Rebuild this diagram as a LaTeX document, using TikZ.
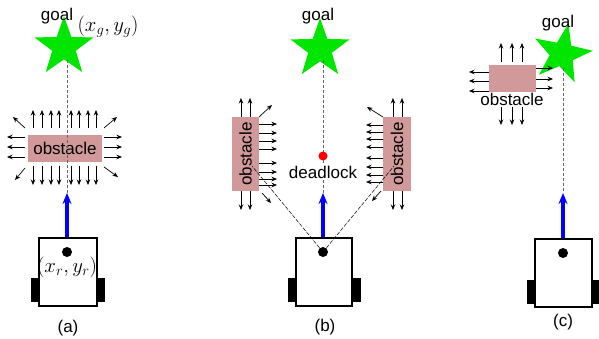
\documentclass[tikz,border=0pt]{standalone}
\usepackage{fontspec}
\setmainfont{Liberation Sans}
\usetikzlibrary{arrows.meta,shapes.geometric,calc}
\definecolor{obsfill}{RGB}{209,153,153}
\definecolor{stargreen}{RGB}{0,230,0}
\definecolor{robblue}{RGB}{0,0,255}
\begin{document}
\begin{tikzpicture}[x=1pt,y=-1pt,font=\fontsize{17}{20}\selectfont]
\tikzset{
  obst/.style={fill=obsfill,inner sep=0pt},
  goalstar/.style={star,star points=5,star point ratio=2.5,minimum size=62pt,inner sep=0pt,fill=stargreen},
  robot/.style={draw=black,line width=1.4pt,fill=white,inner sep=0pt},
  wheel/.style={fill=black,inner sep=0pt,minimum width=8pt,minimum height=24pt},
  rdot/.style={circle,fill=black,inner sep=0pt,minimum size=10pt},
  farrow/.style={-{Stealth[length=5.5pt,width=4.5pt]},line width=0.7pt},
  heading/.style={-{Stealth[length=11pt,width=9pt]},line width=3.2pt,draw=robblue},
  goalline/.style={dashed,dash pattern=on 3pt off 2pt,draw=black!60,line width=0.8pt},
  sightline/.style={dashed,dash pattern=on 4pt off 1.5pt,line width=0.5pt},
  lbl/.style={inner sep=0pt},
  mathlbl/.style={inner sep=0pt,font=\fontsize{21}{24}\selectfont}
}
\useasboundingbox (0,0) rectangle (599,339);

% ================= (a) =================
\coordinate (ta) at (67,193);
\node[goalstar] (sa) at (64,47) {};
\draw[goalline] (67,60) -- (ta);
\node[obst,minimum width=74pt,minimum height=27pt] (oa) at (65,148.5) {obstacle};
\draw[goalline] (oa.north -| ta) -- (oa.south -| ta);
\foreach \x in {33,42,51,59,71,79,88,96}{
  \draw[farrow] (\x,128) -- (\x,110);
  \draw[farrow] (\x,166) -- (\x,185);
}
\foreach \y in {137,147,157}{
  \draw[farrow] (25,\y) -- (7,\y);
  \draw[farrow] (104,\y) -- (122,\y);
}
\draw[farrow] (25,128) -- (13,117);
\draw[farrow] (104,128) -- (117,117);
\draw[farrow] (25,168) -- (15,180);
\draw[farrow] (104,167) -- (118,177);
\node[wheel] (wal) at (35,290) {};
\node[wheel] (war) at (100.5,290) {};
\node[robot,minimum width=58pt,minimum height=68pt] (ra) at (68,272) {};
\node[rdot] (da) at (67,252) {};
\draw[heading] (ra.north -| ta) -- (ta);
\node[lbl] (ga) at (57,16) {goal};
\node[mathlbl] (xga) at (108,27) {$(x_g,y_g)$};
\node[mathlbl] (xra) at (67,267) {$(x_r,y_r)$};
\node[lbl] (la) at (68,328) {(a)};

% ================= (b) =================
\coordinate (tb) at (323,193);
\node[goalstar] (sb) at (320,49) {};
\draw[goalline] (323,60) -- (tb);
\node[circle,fill=red,inner sep=0pt,minimum size=9pt] (dl) at (323,156) {};
\node[lbl,fill=white,inner sep=1pt] (dlt) at (323,172) {deadlock};
\node[obst,minimum width=74pt,minimum height=27pt,rotate=90] (obl) at (245.5,154) {obstacle};
\node[obst,minimum width=74pt,minimum height=28pt,rotate=90] (obr) at (397,154) {obstacle};
\foreach \x in {241,250}{
  \draw[farrow] (\x,117) -- (\x,98);
  \draw[farrow] (\x,191) -- (\x,210);
}
\foreach \x in {393,402}{
  \draw[farrow] (\x,117) -- (\x,98);
  \draw[farrow] (\x,191) -- (\x,210);
}
\foreach \y in {124,133,141,149,163,172,179,185}{
  \draw[farrow] (259,\y) -- (277,\y);
}
\foreach \y in {125,132,139,147,158,167,175,182}{
  \draw[farrow] (383,\y) -- (366,\y);
}
\draw[farrow] (259,117) -- (272,105);
\draw[farrow] (262,193) -- (271,203);
\draw[farrow] (383,117) -- (367,107);
\draw[farrow] (381,191) -- (372,201);
\node[wheel] (wbl) at (291.5,290) {};
\node[wheel] (wbr) at (356.5,290) {};
\node[robot,minimum width=56pt,minimum height=68pt] (rb) at (324,272) {};
\coordinate (hl) at (252,166);
\coordinate (hr) at (394,166);
\node[rdot] (db) at (323,252) {};
\draw[sightline] (db.center) -- (hl);
\draw[sightline] (db.center) -- (hr);
\draw[heading] (rb.north -| tb) -- (tb);
\node[lbl] (gb) at (318,16) {goal};
\node[lbl] (lb) at (325,327) {(b)};

% ================= (c) =================
\coordinate (tc) at (563,193);
\node[goalstar,rotate=-12] (sc) at (562,54) {};
\draw[goalline] (563,68) -- (tc);
\node[obst,minimum width=47pt,minimum height=27pt] (oc) at (512.5,78.5) {};
\node[lbl] (oct) at (512,99) {obstacle};
\foreach \x in {501,512,522}{
  \draw[farrow] (\x,62) -- (\x,43);
  \draw[farrow] (\x,107) -- (\x,125);
}
\foreach \y in {72,81,91}{
  \draw[farrow] (489,\y) -- (469,\y);
}
\foreach \y in {68,79,88}{
  \draw[farrow] (536,\y) -- (553,\y);
}
\node[wheel] (wcl) at (531,291.5) {};
\node[wheel] (wcr) at (595.5,291.5) {};
\node[robot,minimum width=57pt,minimum height=68pt] (rc) at (563.5,273) {};
\node[rdot] (dc) at (563,253) {};
\draw[heading] (rc.north -| tc) -- (tc);
\node[lbl] (gc) at (558,23) {goal};
\node[lbl] (lc) at (563,322) {(c)};
\end{tikzpicture}
\end{document}
